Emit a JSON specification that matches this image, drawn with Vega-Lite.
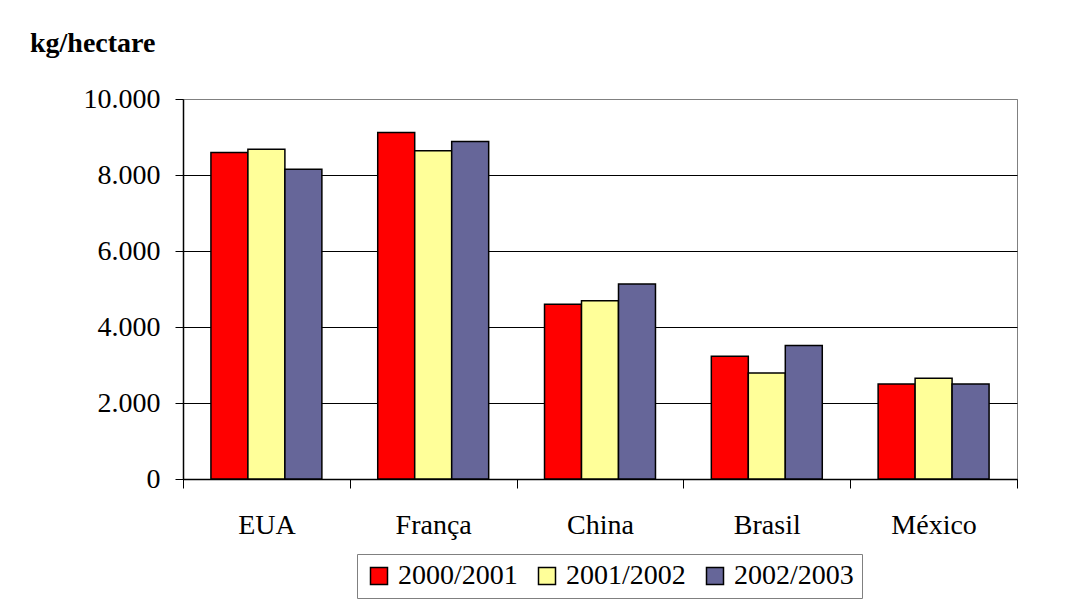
{
  "$schema": "https://vega.github.io/schema/vega-lite/v6.json",
  "width": 834,
  "height": 380,
  "autosize": "none",
  "padding": {"left": 183, "top": 99, "right": 55, "bottom": 137},
  "background": "white",
  "title": {
    "text": "kg/hectare",
    "anchor": "start",
    "frame": "group",
    "dx": -153,
    "offset": 5,
    "baseline": "alphabetic",
    "font": "Liberation Serif",
    "fontSize": 28,
    "fontWeight": "bold",
    "color": "black"
  },
  "data": {
    "values": [
      {"pais": "EUA", "safra": "2000/2001", "valor": 8590},
      {"pais": "EUA", "safra": "2001/2002", "valor": 8680},
      {"pais": "EUA", "safra": "2002/2003", "valor": 8150},
      {"pais": "França", "safra": "2000/2001", "valor": 9120},
      {"pais": "França", "safra": "2001/2002", "valor": 8640},
      {"pais": "França", "safra": "2002/2003", "valor": 8880},
      {"pais": "China", "safra": "2000/2001", "valor": 4600},
      {"pais": "China", "safra": "2001/2002", "valor": 4690},
      {"pais": "China", "safra": "2002/2003", "valor": 5130},
      {"pais": "Brasil", "safra": "2000/2001", "valor": 3230},
      {"pais": "Brasil", "safra": "2001/2002", "valor": 2790},
      {"pais": "Brasil", "safra": "2002/2003", "valor": 3510},
      {"pais": "México", "safra": "2000/2001", "valor": 2500},
      {"pais": "México", "safra": "2001/2002", "valor": 2650},
      {"pais": "México", "safra": "2002/2003", "valor": 2500}
    ]
  },
  "mark": {"type": "bar", "stroke": "black", "strokeWidth": 1.5},
  "encoding": {
    "x": {
      "field": "pais",
      "type": "nominal",
      "sort": ["EUA", "França", "China", "Brasil", "México"],
      "scale": {"paddingInner": 0, "paddingOuter": 0},
      "axis": {
        "title": null,
        "labelAngle": 0,
        "tickBand": "extent",
        "tickSize": 9,
        "labelPadding": 45,
        "labelBaseline": "alphabetic",
        "grid": false
      }
    },
    "xOffset": {
      "field": "safra",
      "type": "nominal",
      "scale": {"paddingInner": 0, "paddingOuter": 0.755}
    },
    "y": {
      "field": "valor",
      "type": "quantitative",
      "scale": {"domain": [0, 10000], "nice": false},
      "axis": {
        "title": null,
        "values": [0, 2000, 4000, 6000, 8000, 10000],
        "labelExpr": "replace(format(datum.value, ','), ',', '.')",
        "tickSize": 8,
        "labelPadding": 15,
        "grid": true,
        "gridColor": {"condition": {"test": "datum.value === 10000", "value": "#808080"}, "value": "black"},
        "gridWidth": 1
      }
    },
    "color": {
      "field": "safra",
      "type": "nominal",
      "scale": {"range": ["#FF0000", "#FFFF99", "#666699"]},
      "legend": {
        "title": null,
        "orient": "none",
        "legendX": 174,
        "legendY": 455,
        "direction": "horizontal",
        "columns": 3
      }
    }
  },
  "config": {
    "font": "Liberation Serif",
    "view": {"stroke": "#808080", "strokeWidth": 1},
    "title": {
      "font": "Liberation Serif",
      "fontSize": 28,
      "fontWeight": "bold",
      "color": "black"
    },
    "axis": {
      "domainColor": "black",
      "domainWidth": 1.5,
      "tickColor": "black",
      "tickWidth": 1,
      "labelFont": "Liberation Serif",
      "labelFontSize": 28,
      "labelColor": "black"
    },
    "legend": {
      "strokeColor": "#808080",
      "padding": 8,
      "symbolType": "square",
      "symbolSize": 289,
      "symbolStrokeColor": "black",
      "symbolStrokeWidth": 1.5,
      "symbolOpacity": 1,
      "labelFont": "Liberation Serif",
      "labelFontSize": 28,
      "labelColor": "black",
      "labelOffset": 5,
      "columnPadding": 15
    }
  }
}
